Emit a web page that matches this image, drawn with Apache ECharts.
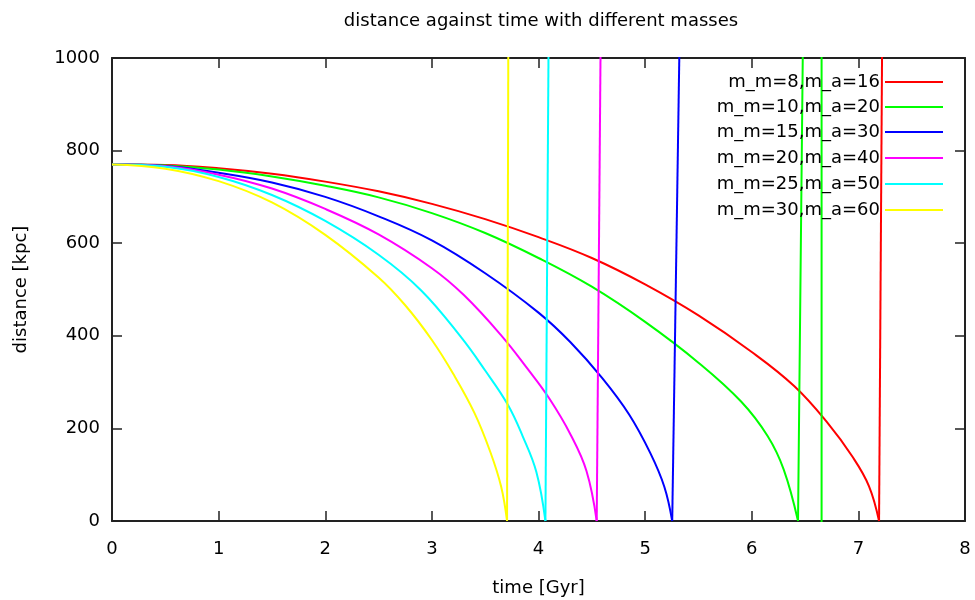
<!DOCTYPE html>
<html>
<head>
<meta charset="utf-8">
<script src="https://cdn.jsdelivr.net/npm/echarts@6/dist/echarts.min.js"></script>
<style>
  html, body { margin: 0; padding: 0; background: #fff; }
  #main { width: 975px; height: 600px; }
</style>
</head>
<body>
<div id="main"></div>
<script>
// distance [kpc] against time [Gyr]
var names = ['m_m=8,m_a=16', 'm_m=10,m_a=20', 'm_m=15,m_a=30',
             'm_m=20,m_a=40', 'm_m=25,m_a=50', 'm_m=30,m_a=60'];
var colors = ['#ff0000', '#00ff00', '#0000ff', '#ff00ff', '#00ffff', '#ffff00'];

// the falling part of each curve
var t_8  = [0, 0.5, 1.0, 1.5, 2.0, 2.5, 3.0, 3.5, 4.0, 4.5, 5.0, 5.5, 6.0, 6.4, 6.7, 6.95, 7.1, 7.194];
var d_8  = [770, 769, 762, 750, 733, 712, 685, 652, 613, 568, 511, 444, 365, 291, 215, 137, 75, 0];

var t_10 = [0, 0.5, 1.0, 1.5, 2.0, 2.5, 3.0, 3.5, 4.0, 4.5, 5.0, 5.5, 5.9, 6.15, 6.3, 6.434];
var d_10 = [770, 768, 759, 744, 724, 699, 665, 622, 568, 506, 430, 342, 258, 183, 111, 0];

var t_15 = [0, 0.5, 1.0, 1.5, 2.0, 2.5, 3.0, 3.5, 4.0, 4.3, 4.6, 4.85, 5.05, 5.18, 5.254];
var d_15 = [770, 767, 752, 731, 700, 658, 606, 535, 450, 386, 308, 230, 146, 74, 0];

var t_20 = [0, 0.5, 1.0, 1.5, 2.0, 2.5, 3.0, 3.3, 3.65, 3.9, 4.1, 4.3, 4.45, 4.546];
var d_20 = [770, 766, 748, 718, 674, 619, 546, 488, 401, 328, 265, 187, 108, 0];

var t_25 = [0, 0.5, 1.0, 1.5, 2.0, 2.5, 2.9, 3.27, 3.5, 3.71, 3.85, 3.98, 4.065];
var d_25 = [770, 765, 743, 704, 648, 575, 498, 398, 325, 252, 184, 106, 0];

var t_30 = [0, 0.5, 1.0, 1.5, 2.0, 2.5, 2.75, 3.0, 3.2, 3.4, 3.55, 3.65, 3.705];
var d_30 = [770, 761, 734, 688, 618, 526, 466, 391, 318, 233, 148, 74, 0];

// the jump off the top of the plot after reaching 0
var jump_t_8  = [7.194, 7.226];
var jump_d_8  = [0, 1150];
var jump_t_10 = [6.434, 6.485, 6.655, 6.655];
var jump_d_10 = [0, 1150, 1150, -100];
var jump_t_15 = [5.254, 5.327];
var jump_d_15 = [0, 1100];
var jump_t_20 = [4.546, 4.585];
var jump_d_20 = [0, 1100];
var jump_t_25 = [4.065, 4.097];
var jump_d_25 = [0, 1120];
var jump_t_30 = [3.705, 3.718];
var jump_d_30 = [0, 1120];

var times = [t_8, t_10, t_15, t_20, t_25, t_30];
var dists = [d_8, d_10, d_15, d_20, d_25, d_30];
var jump_times = [jump_t_8, jump_t_10, jump_t_15, jump_t_20, jump_t_25, jump_t_30];
var jump_dists = [jump_d_8, jump_d_10, jump_d_15, jump_d_20, jump_d_25, jump_d_30];

var font = 'DejaVu Sans';

function pairs(t, d){
    var out = [];
    for (var i = 0; i < t.length; i++) {
        out.push([t[i], d[i]]);
    }
    return out;
}

var series = [];
var legends = [];
var rowY = [82, 107, 132, 158, 184, 210];
for (var i = 0; i < names.length; i++) {
    series.push({
        name: names[i],
        type: 'line',
        data: pairs(times[i], dists[i]),
        symbol: 'none',
        smooth: 0.4,
        clip: true,
        lineStyle: { color: colors[i], width: 2 },
        itemStyle: { color: colors[i] }
    });
    series.push({
        name: names[i],
        type: 'line',
        data: pairs(jump_times[i], jump_dists[i]),
        symbol: 'none',
        clip: true,
        lineStyle: { color: colors[i], width: 2 },
        itemStyle: { color: colors[i] }
    });
    // one legend per row so the labels line up on the right
    legends.push({
        data: [names[i]],
        right: 32,
        top: rowY[i] - 10,
        padding: 0,
        icon: 'rect',
        itemWidth: 58,
        itemHeight: 2,
        align: 'right',
        selectedMode: false,
        textStyle: { fontFamily: font, fontSize: 18, color: '#000', lineHeight: 20 }
    });
}

var tickStyle = { color: '#222', width: 1.5 };
var lineStyle = { color: '#222', width: 2 };
function plain(v){ return String(v); }

var mychart = echarts.init(document.getElementById('main'), null, { renderer: 'canvas' });
var option = {
    backgroundColor: '#fff',
    animation: false,
    graphic: [{
        type: 'text',
        x: 541,
        y: 12,
        style: {
            text: 'distance against time with different masses',
            font: '18px "' + font + '"',
            fill: '#000',
            textAlign: 'center'
        }
    }],
    legend: legends,
    grid: { left: 112, right: 10, top: 58, bottom: 79, containLabel: false, outerBoundsMode: 'none' },
    xAxis: [
        {
            type: 'value',
            min: 0, max: 8, interval: 1,
            position: 'bottom',
            name: 'time [Gyr]',
            nameLocation: 'middle',
            nameGap: 58,
            nameTextStyle: { fontFamily: font, fontSize: 18, color: '#000' },
            axisLine: { show: true, onZero: false, lineStyle: lineStyle },
            axisTick: { show: true, inside: true, length: 10, lineStyle: tickStyle },
            axisLabel: { fontFamily: font, fontSize: 18, color: '#000', margin: 19, formatter: plain },
            splitLine: { show: false }
        },
        {
            type: 'value',
            min: 0, max: 8, interval: 1,
            position: 'top',
            axisLine: { show: true, onZero: false, lineStyle: lineStyle },
            axisTick: { show: true, inside: true, length: 10, lineStyle: tickStyle },
            axisLabel: { show: false },
            splitLine: { show: false }
        }
    ],
    yAxis: [
        {
            type: 'value',
            min: 0, max: 1000, interval: 200,
            position: 'left',
            name: 'distance [kpc]',
            nameLocation: 'middle',
            nameGap: 82,
            nameTextStyle: { fontFamily: font, fontSize: 18, color: '#000' },
            axisLine: { show: true, onZero: false, lineStyle: lineStyle },
            axisTick: { show: true, inside: true, length: 10, lineStyle: tickStyle },
            axisLabel: { fontFamily: font, fontSize: 18, color: '#000', margin: 12, formatter: plain },
            splitLine: { show: false }
        },
        {
            type: 'value',
            min: 0, max: 1000, interval: 200,
            position: 'right',
            axisLine: { show: true, onZero: false, lineStyle: lineStyle },
            axisTick: { show: true, inside: true, length: 10, lineStyle: tickStyle },
            axisLabel: { show: false },
            splitLine: { show: false }
        }
    ],
    series: series
};
mychart.setOption(option);
</script>
</body>
</html>
